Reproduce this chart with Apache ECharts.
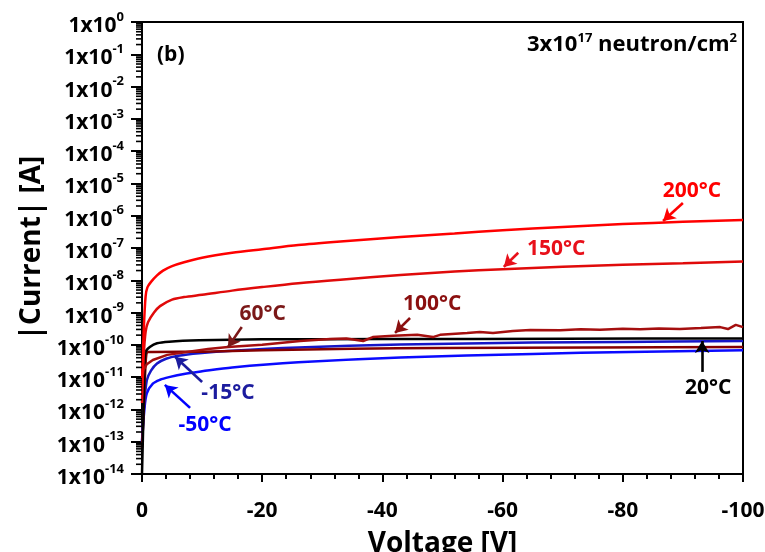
<!DOCTYPE html>
<html>
<head>
<meta charset="utf-8">
<script src="https://cdn.jsdelivr.net/npm/echarts@6/dist/echarts.min.js"></script>
<style>
  html, body { margin: 0; padding: 0; background: #fff; }
  #chart { width: 765px; height: 552px; }
</style>
</head>
<body>
<div id="chart"></div>
<script>
// |I|-V sweeps at several temperatures, fluence 3x10^17 neutron/cm^2.
// Voltages in V; currents stored as log10(|I| / A).
const volt200 = [0, -0.3, -0.6, -0.9, -1.5, -2.5, -3.5, -5, -7, -10, -15, -20, -26, -33, -43, -52, -60, -70, -80, -90, -100];
const log200  = [-11.2, -9.5, -8.5, -8.22, -8.05, -7.85, -7.7, -7.56, -7.44, -7.3, -7.15, -7.04, -6.91, -6.8, -6.66, -6.55, -6.45, -6.35, -6.26, -6.19, -6.13];

const volt150 = [0, -0.3, -0.6, -1, -2, -3, -5, -7, -10, -15, -20, -26, -33, -43, -52, -60, -70, -80, -90, -100];
const log150  = [-11.8, -10.3, -9.6, -9.3, -9.0, -8.8, -8.6, -8.52, -8.45, -8.32, -8.21, -8.09, -7.98, -7.84, -7.73, -7.66, -7.58, -7.52, -7.47, -7.42];

const volt100 = [0, -0.2, -0.8, -1.8, -4.2, -7.5, -11, -14.3, -20, -26.3, -31.3, -34, -36.8, -38.4, -41.8, -45.8, -48.4, -49.6, -54.1, -56.2, -58.4, -61.7, -64.6, -69.6, -73, -76.2, -80, -82.9, -86, -89.5, -93, -96.2, -97.5, -98.8, -100];
const log100  = [-11.3, -10.8, -10.6, -10.47, -10.31, -10.22, -10.13, -10.07, -10.0, -9.88, -9.82, -9.8, -9.88, -9.76, -9.72, -9.69, -9.76, -9.69, -9.63, -9.6, -9.63, -9.57, -9.54, -9.55, -9.52, -9.53, -9.5, -9.52, -9.49, -9.51, -9.48, -9.45, -9.51, -9.38, -9.45];

const volt60 = [0, -0.3, -0.6, -1, -10, -20, -35, -50, -75, -100];
const log60  = [-13.2, -12.0, -10.6, -10.22, -10.21, -10.17, -10.12, -10.1, -10.08, -10.07];

const volt20 = [0, -0.2, -0.4, -0.6, -1.3, -2.5, -4.5, -9.5, -20, -40, -70, -100];
const log20  = [-14.0, -12.5, -10.8, -10.22, -10.07, -9.95, -9.9, -9.86, -9.83, -9.82, -9.81, -9.8];

const voltM15 = [0, -0.3, -0.8, -1.5, -2.5, -4, -6, -9.5, -15, -26, -43, -65, -80, -100];
const logM15  = [-13.0, -12.0, -11.1, -10.8, -10.58, -10.43, -10.34, -10.26, -10.18, -10.08, -9.99, -9.93, -9.91, -9.88];

const voltM50 = [0, -0.4, -0.8, -1.8, -3, -4.5, -7, -10, -15, -26, -43, -65, -81, -100];
const logM50  = [-13.0, -12.0, -11.5, -11.2, -11.08, -11.0, -10.9, -10.82, -10.7, -10.54, -10.39, -10.28, -10.22, -10.17];

// Temperature call-outs: [text, text position [V, A], arrow tail [V, A], arrow head [V, A]]
const note200 = ['200°C', [-91.5, 6.0e-6], [-90.0, 2.47e-6], [-86.7, 6.9e-7]];
const note150 = ['150°C', [-68.9, 9.4e-8], [-62.6, 7.1e-8], [-60.2, 2.6e-8]];
const note100 = ['100°C', [-48.3, 1.83e-9], [-44.6, 6.8e-10], [-42.1, 2.35e-10]];
const note60  = ['60°C',  [-20.1, 9.0e-10], [-16.6, 3.55e-10], [-14.3, 8.5e-11]];
const noteM15 = ['-15°C', [-14.3, 3.3e-12], [-10.0, 7.1e-12], [-5.5, 4.3e-11]];
const noteM50 = ['-50°C', [-10.5, 3.3e-13], [-8.0, 1.12e-12], [-3.8, 5.75e-12]];
const note20  = ['20°C',  [-94.2, 4.6e-12], [-93.2, 1.45e-11], [-93.2, 1.32e-10]];

// Y-axis range, decades, and the 2..9 minor ticks inside each decade
const yMin = 1e-14, yMax = 1;
const decades = [-14, -13, -12, -11, -10, -9, -8, -7, -6, -5, -4, -3, -2, -1];
const minorMantissas = [2, 3, 4, 5, 6, 7, 8, 9];

const FONT = '"Open Sans"';

function pairs(volts, logs) {
  return volts.map((v, i) => [v, Math.pow(10, logs[i])]);
}

function curve(name, data, color, smooth, note, noteColor) {
  return {
    name: name,
    type: 'line',
    data: data,
    showSymbol: false,
    symbol: 'none',
    smooth: smooth,
    lineStyle: { color: color, width: 2.5 },
    z: 3,
    markLine: {
      silent: true,
      symbol: ['none', 'arrow'],
      symbolSize: [11, 12],
      lineStyle: { color: noteColor, width: 2.6, type: 'solid' },
      label: { show: false },
      data: [[{ coord: note[2] }, { coord: note[3] }]],
      animation: false
    },
    markPoint: {
      silent: true,
      symbol: 'circle',
      symbolSize: 0,
      data: [{ coord: note[1] }],
      label: {
        show: true,
        position: 'inside',
        formatter: note[0],
        color: noteColor,
        fontFamily: FONT,
        fontWeight: 'bold',
        fontSize: 21
      },
      animation: false
    }
  };
}

const chart = echarts.init(document.getElementById('chart'), null, { renderer: 'canvas' });

const option = {
  animation: false,
  backgroundColor: '#fff',
  grid: {
    left: 142, right: 22, top: 22, bottom: 78,
    outerBoundsMode: 'none',
    containLabel: false,
    show: true, borderColor: '#000', borderWidth: 2, backgroundColor: 'transparent'
  },
  xAxis: {
    type: 'value',
    min: -100, max: 0, interval: 20,
    inverse: true,
    name: 'Voltage [V]',
    nameLocation: 'middle',
    nameGap: 56,
    nameTextStyle: { fontFamily: FONT, fontWeight: 'bold', fontSize: 28, color: '#000' },
    axisLine: { show: true, onZero: false, lineStyle: { color: '#000', width: 2 } },
    axisTick: { show: true, inside: false, length: 8, lineStyle: { color: '#000', width: 2 } },
    minorTick: { show: true, splitNumber: 5, length: 5, lineStyle: { color: '#000', width: 2 } },
    splitLine: { show: false },
    axisLabel: {
      margin: 27,
      fontFamily: FONT, fontWeight: 'bold', fontSize: 21, color: '#000',
      formatter: v => (v === 0 ? '0' : String(v))
    }
  },
  yAxis: {
    type: 'log',
    logBase: 10,
    min: yMin, max: yMax,
    interval: 1,
    splitNumber: 14,
    name: '|Current| [A]',
    nameLocation: 'middle',
    nameGap: 93,
    nameTextStyle: { fontFamily: FONT, fontWeight: 'bold', fontSize: 28, color: '#000' },
    axisLine: { show: true, lineStyle: { color: '#000', width: 2 } },
    axisTick: { show: true, inside: false, length: 11, lineStyle: { color: '#000', width: 2 } },
    splitLine: { show: false },
    axisLabel: {
      margin: 18,
      formatter: v => '{b|1x10}{s|' + Math.round(Math.log10(v)) + '}',
      rich: {
        b: { fontFamily: FONT, fontWeight: 'bold', fontSize: 21, color: '#000', padding: [8, 0, 0, 0] },
        s: { fontFamily: FONT, fontWeight: 'bold', fontSize: 13, color: '#000', padding: [0, 0, 10, 0] }
      }
    }
  },
  graphic: [
    {
      type: 'text', left: 157, top: 45,
      style: { text: '(b)', fontFamily: FONT, fontWeight: 'bold', fontSize: 21, fill: '#000' }
    },
    {
      type: 'text', right: 28, top: 32,
      style: {
        text: '{b|3x10}{s|17}{b| neutron/cm}{s|2}',
        rich: {
          b: { fontFamily: FONT, fontWeight: 'bold', fontSize: 22, fill: '#000' },
          s: { fontFamily: FONT, fontWeight: 'bold', fontSize: 13, fill: '#000', padding: [0, 0, 12, 0] }
        }
      }
    }
  ],
  series: [
    {
      name: 'minor ticks',
      type: 'custom',
      silent: true,
      clip: false,
      z: 5,
      data: decades.map(d => [0, Math.pow(10, d)]),
      renderItem: function (params, api) {
        const base = api.value(1);
        const children = minorMantissas.map(m => {
          const p = api.coord([0, m * base]);
          return {
            type: 'line',
            shape: { x1: p[0] - 6, y1: p[1], x2: p[0], y2: p[1] },
            style: { stroke: '#000', lineWidth: 1.6 }
          };
        });
        return { type: 'group', children: children };
      }
    },
    curve('-50°C', pairs(voltM50, logM50), '#0a0aff', 0.3, noteM50, '#0000ff'),
    curve('-15°C', pairs(voltM15, logM15), '#1616c8', 0.3, noteM15, '#1c1c9e'),
    curve('60°C', pairs(volt60, log60), '#850000', 0.2, note60, '#7b1818'),
    curve('20°C', pairs(volt20, log20), '#000000', 0.3, note20, '#000000'),
    curve('100°C', pairs(volt100, log100), '#a50f0f', 0, note100, '#8b1010'),
    curve('150°C', pairs(volt150, log150), '#e00a0a', 0.3, note150, '#e8101a'),
    curve('200°C', pairs(volt200, log200), '#ff0000', 0.3, note200, '#ff0000')
  ]
};

chart.setOption(option);
</script>
</body>
</html>
